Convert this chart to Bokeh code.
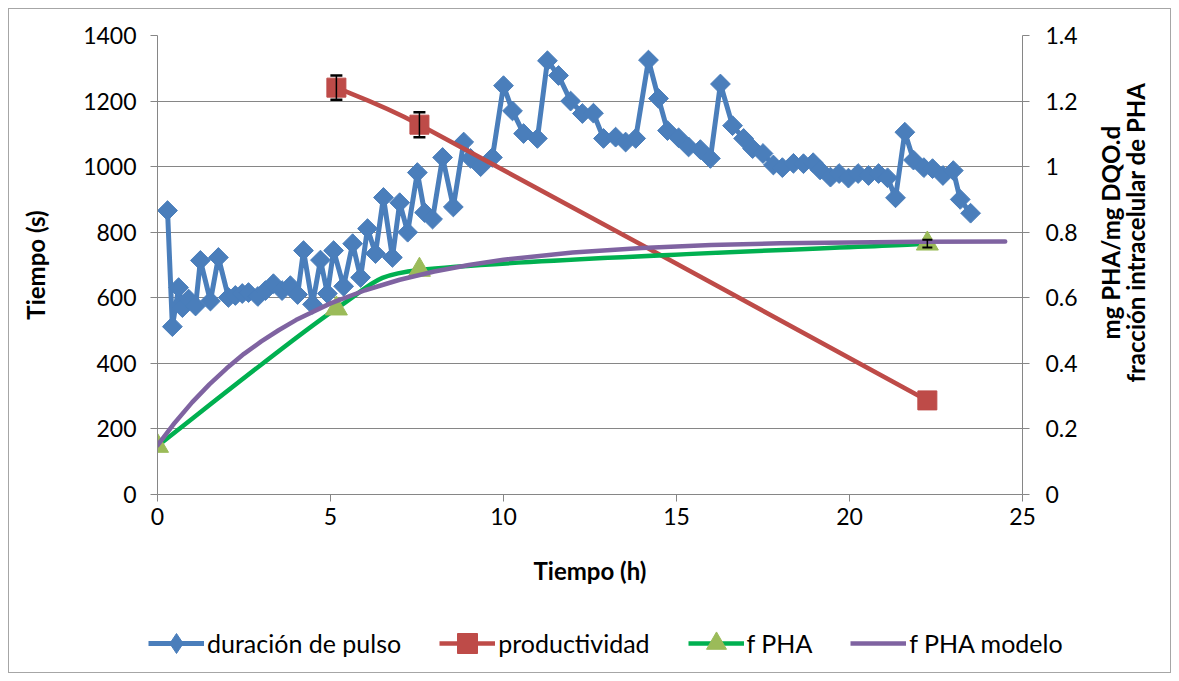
from bokeh.plotting import figure
from bokeh.layouts import column, row
from bokeh.models import (ColumnDataSource, Range1d, LinearAxis, Legend, LegendItem,
                          Whisker, TeeHead, FixedTicker, CustomJSTickFormatter)
from bokeh.core.properties import value
from bokeh.embed import file_html
from bokeh.resources import INLINE
import numpy as np

# ---------------- data ----------------
t_pulse = [0.29, 0.43, 0.61, 0.72, 0.9, 1.1, 1.24, 1.53, 1.76,
           2.05, 2.25, 2.45, 2.63, 2.9, 3.12, 3.35, 3.6, 3.84, 4.05,
           4.22, 4.48, 4.71, 4.91, 5.09, 5.38, 5.64, 5.87, 6.07, 6.3,
           6.53, 6.79, 7.0, 7.23, 7.51, 7.72, 7.95, 8.24, 8.55, 8.85,
           9.05, 9.34, 9.68, 10.0, 10.26, 10.58, 10.98, 11.27, 11.59, 11.94,
           12.28, 12.6, 12.89, 13.24, 13.53, 13.82, 14.19, 14.48, 14.74, 15.06,
           15.35, 15.69, 15.98, 16.27, 16.62, 16.94, 17.2, 17.5, 17.8, 18.06,
           18.38, 18.67, 18.95, 19.15, 19.45, 19.7, 19.97, 20.25, 20.55, 20.84,
           21.1, 21.33, 21.6, 21.85, 22.15, 22.4, 22.7, 23.0, 23.2, 23.5]
dur_pulso = [866, 512, 631, 570, 596, 575, 714, 590, 723,
             601, 607, 613, 616, 604, 622, 643, 622, 637, 610,
             744, 580, 715, 613, 744, 635, 765, 662, 811, 735,
             906, 723, 890, 800, 982, 860, 840, 1028, 877, 1075,
             1025, 1000, 1028, 1247, 1170, 1101, 1086, 1323, 1278, 1200,
             1162, 1163, 1086, 1090, 1075, 1086, 1325, 1208, 1110, 1088,
             1060, 1052, 1025, 1252, 1125, 1086, 1055, 1040, 1005, 997,
             1010, 1009, 1012, 990, 968, 979, 965, 979, 973, 979,
             966, 905, 1105, 1020, 997, 994, 973, 988, 900, 858]

t_prod = [5.17, 7.57, 22.25]
productividad = [1.241, 1.128, 0.287]
prod_err = [0.037, 0.038, 0.0]

t_fpha = [0.0, 5.17, 7.57, 22.25]
f_pha = [0.148, 0.567, 0.685, 0.765]
fpha_err = [0.0, 0.0, 0.0, 0.012]

t_model = [0, 0.5, 1, 1.5, 2, 2.5, 3, 3.5, 4, 5, 6, 7, 8, 9, 10, 12, 14, 16, 18, 20, 22, 24.5]
f_pha_modelo = [0.150, 0.219, 0.281, 0.336, 0.385, 0.429, 0.467, 0.501, 0.532, 0.583,
                0.623, 0.655, 0.680, 0.700, 0.716, 0.738, 0.752, 0.761, 0.766, 0.769,
                0.771, 0.772]

x_ticks = [0, 5, 10, 15, 20, 25]
y_ticks = [0, 200, 400, 600, 800, 1000, 1200, 1400]
y2_ticks = [0, 0.2, 0.4, 0.6, 0.8, 1.0, 1.2, 1.4]

labels = ["duración de pulso", "productividad", "f PHA", "f PHA modelo"]
y2_label_lines = ["mg PHA/mg DQO.d", "fracción intracelular de PHA"]

BLUE = "#4A7EBB"
RED = "#BE4B48"
GREEN = "#00B050"
TRI = "#9BBB59"
PURPLE = "#7F63A1"
GRID = "#868686"
FONT = "Lato"

# ---------------- layout constants ----------------
W, H = 1161, 663
FL, FT, FW, FH = 148, 26, 865, 459
MAIN_R, MAIN_B = 70, 110
MAIN_W = FL + FW + MAIN_R
MAIN_H = FT + FH + MAIN_B
SIDE_W = W - MAIN_W
LEG_H = H - MAIN_H
X_MAX, Y2_MAX = 25.0, 1.4


def smooth_segments(xs, ys):
    """Excel-like smoothed line: Catmull-Rom Bezier in screen proportions,
    control handles limited to half of each segment's chord."""
    sx, sy = FW / X_MAX, FH / Y2_MAX
    P = [(x * sx, y * sy) for x, y in zip(xs, ys)]
    n = len(P)
    d = dict(x0=[], y0=[], x1=[], y1=[], cx0=[], cy0=[], cx1=[], cy1=[])

    def clamp(v, lim):
        L = (v[0] ** 2 + v[1] ** 2) ** 0.5
        if L > lim and L > 0:
            return (v[0] * lim / L, v[1] * lim / L)
        return v

    for i in range(n - 1):
        a = max(i - 1, 0)
        b = min(i + 2, n - 1)
        p1, p2 = P[i], P[i + 1]
        chord = ((p2[0] - p1[0]) ** 2 + (p2[1] - p1[1]) ** 2) ** 0.5
        t1 = clamp(((p2[0] - P[a][0]) / 6.0, (p2[1] - P[a][1]) / 6.0), 0.5 * chord)
        t2 = clamp(((P[b][0] - p1[0]) / 6.0, (P[b][1] - p1[1]) / 6.0), 0.5 * chord)
        d["x0"].append(p1[0] / sx); d["y0"].append(p1[1] / sy)
        d["x1"].append(p2[0] / sx); d["y1"].append(p2[1] / sy)
        d["cx0"].append((p1[0] + t1[0]) / sx); d["cy0"].append((p1[1] + t1[1]) / sy)
        d["cx1"].append((p2[0] - t2[0]) / sx); d["cy1"].append((p2[1] - t2[1]) / sy)
    return ColumnDataSource(d)


def style_axis(ax):
    ax.axis_line_color = GRID
    ax.axis_line_width = 1
    ax.major_tick_line_color = GRID
    ax.major_tick_out = 7
    ax.major_tick_in = 0
    ax.minor_tick_line_color = None
    ax.major_label_text_font = FONT
    ax.major_label_text_font_size = "23px"
    ax.major_label_text_color = "black"
    ax.axis_label_text_font = FONT
    ax.axis_label_text_font_size = "24px"
    ax.axis_label_text_font_style = "bold"
    ax.axis_label_text_color = "black"


# ---------------- main plot ----------------
p = figure(frame_width=FW, frame_height=FH, x_range=Range1d(0, X_MAX), y_range=Range1d(0, 1400),
           output_backend="svg", toolbar_location=None,
           min_border_left=FL, min_border_top=FT, min_border_right=MAIN_R, min_border_bottom=MAIN_B)
p.extra_y_ranges = {"right": Range1d(0, Y2_MAX)}
p.outline_line_color = None
p.background_fill_color = "white"
p.border_fill_color = "white"

p.xgrid.visible = False
p.ygrid.grid_line_color = GRID
p.ygrid.grid_line_width = 1
p.ygrid.ticker = FixedTicker(ticks=y_ticks)

xa = p.xaxis[0]
xa.ticker = FixedTicker(ticks=x_ticks)
xa.axis_label = "Tiempo (h)"
style_axis(xa)
xa.major_label_standoff = 6
xa.axis_label_standoff = 28

ya = p.yaxis[0]
ya.ticker = FixedTicker(ticks=y_ticks)
ya.axis_label = "Tiempo (s)"
style_axis(ya)
ya.major_label_standoff = 14
ya.axis_label_standoff = 30

ya2 = LinearAxis(y_range_name="right", ticker=FixedTicker(ticks=y2_ticks),
                 formatter=CustomJSTickFormatter(code="return Number(tick.toFixed(1)).toString();"))
style_axis(ya2)
ya2.major_label_standoff = 16
p.add_layout(ya2, "right")

# duración de pulso
src_b = ColumnDataSource(dict(x=t_pulse, y=dur_pulso))
p.line("x", "y", source=src_b, line_color=BLUE, line_width=5)
p.scatter("x", "y", source=src_b, marker="square", angle=np.pi / 4, size=14,
          fill_color=BLUE, line_color=BLUE)

# productividad
seg_r = smooth_segments(t_prod, productividad)
p.bezier(x0="x0", y0="y0", x1="x1", y1="y1", cx0="cx0", cy0="cy0", cx1="cx1", cy1="cy1",
         source=seg_r, line_color=RED, line_width=4.5, y_range_name="right")
idx_r = [i for i, e in enumerate(prod_err) if e > 0]
src_re = ColumnDataSource(dict(x=[t_prod[i] for i in idx_r],
                               up=[productividad[i] + prod_err[i] for i in idx_r],
                               lo=[productividad[i] - prod_err[i] for i in idx_r]))
p.add_layout(Whisker(base="x", upper="up", lower="lo", source=src_re, y_range_name="right",
                     line_color="black", line_width=1.5, level="glyph",
                     upper_head=TeeHead(size=12, line_color="black", line_width=2.5),
                     lower_head=TeeHead(size=12, line_color="black", line_width=2.5)))
src_r = ColumnDataSource(dict(x=t_prod, y=productividad))
p.scatter("x", "y", source=src_r, marker="square", size=19, fill_color=RED,
          line_color=RED, y_range_name="right")

# f PHA
seg_g = smooth_segments(t_fpha, f_pha)
p.bezier(x0="x0", y0="y0", x1="x1", y1="y1", cx0="cx0", cy0="cy0", cx1="cx1", cy1="cy1",
         source=seg_g, line_color=GREEN, line_width=4.5, y_range_name="right")
idx_g = [i for i, e in enumerate(fpha_err) if e > 0]
src_ge = ColumnDataSource(dict(x=[t_fpha[i] for i in idx_g],
                               up=[f_pha[i] + fpha_err[i] for i in idx_g],
                               lo=[f_pha[i] - fpha_err[i] for i in idx_g]))
p.add_layout(Whisker(base="x", upper="up", lower="lo", source=src_ge, y_range_name="right",
                     line_color="black", line_width=1.5, level="glyph",
                     upper_head=TeeHead(size=10, line_color="black", line_width=2),
                     lower_head=TeeHead(size=10, line_color="black", line_width=2)))
src_g = ColumnDataSource(dict(x=t_fpha, y=f_pha))
p.scatter("x", "y", source=src_g, marker="triangle", size=22, fill_color=TRI,
          line_color=TRI, y_range_name="right")

# f PHA modelo
src_m = ColumnDataSource(dict(x=t_model, y=f_pha_modelo))
p.line("x", "y", source=src_m, line_color=PURPLE, line_width=4.5,
       y_range_name="right", line_cap="round")

# ---------------- right axis title (reads bottom to top) ----------------
side = figure(width=SIDE_W, height=MAIN_H, x_range=Range1d(0, SIDE_W), y_range=Range1d(0, MAIN_H),
              output_backend="svg", toolbar_location=None, x_axis_type=None, y_axis_type=None,
              min_border=0)
side.grid.visible = False
side.outline_line_color = None
side.border_fill_color = "white"
yc = MAIN_H - (FT + FH / 2.0)
side.text(x=[18, 43], y=[yc, yc], text=y2_label_lines, angle=np.pi / 2,
          text_align="center", text_baseline="middle", text_font=value(FONT),
          text_font_size="24px", text_font_style="bold", text_color="black")

# ---------------- legend strip ----------------
# the legend's renderers reuse the series data, but this strip's ranges keep them out of view
leg = figure(width=W, height=LEG_H, x_range=Range1d(100, 101), y_range=Range1d(100, 101),
             output_backend="svg", toolbar_location=None, x_axis_type=None, y_axis_type=None,
             min_border=0)
leg.grid.visible = False
leg.outline_line_color = None
leg.border_fill_color = "white"
lb_l = leg.line(t_pulse, dur_pulso, line_color=BLUE, line_width=5)
lb_m = leg.scatter(t_pulse, dur_pulso, marker="diamond", size=20, fill_color=BLUE, line_color=BLUE)
lr_l = leg.line(t_prod, productividad, line_color=RED, line_width=4.5)
lr_m = leg.scatter(t_prod, productividad, marker="square", size=19, fill_color=RED, line_color=RED)
lg_l = leg.line(t_fpha, f_pha, line_color=GREEN, line_width=4.5)
lg_m = leg.scatter(t_fpha, f_pha, marker="triangle", size=22, fill_color=TRI, line_color=TRI)
lm_l = leg.line(t_model, f_pha_modelo, line_color=PURPLE, line_width=4.5)

legend = Legend(items=[
    LegendItem(label=labels[0], renderers=[lb_l, lb_m]),
    LegendItem(label=labels[1], renderers=[lr_l, lr_m]),
    LegendItem(label=labels[2], renderers=[lg_l, lg_m]),
    LegendItem(label=labels[3], renderers=[lm_l]),
], orientation="horizontal", location=(139, 4))
legend.label_text_font = FONT
legend.label_text_font_size = "25px"
legend.label_text_color = "black"
legend.glyph_width = 56
legend.glyph_height = 50
legend.label_standoff = 3
legend.spacing = 38
legend.padding = 0
legend.margin = 0
legend.border_line_color = None
legend.background_fill_alpha = 0
leg.add_layout(legend, "center")

layout = column(row(p, side), leg)
layout.styles = {"border": "1px solid #A6A6A6", "margin": "8px", "background-color": "white"}

open("out.html", "w").write(file_html(layout, INLINE))
